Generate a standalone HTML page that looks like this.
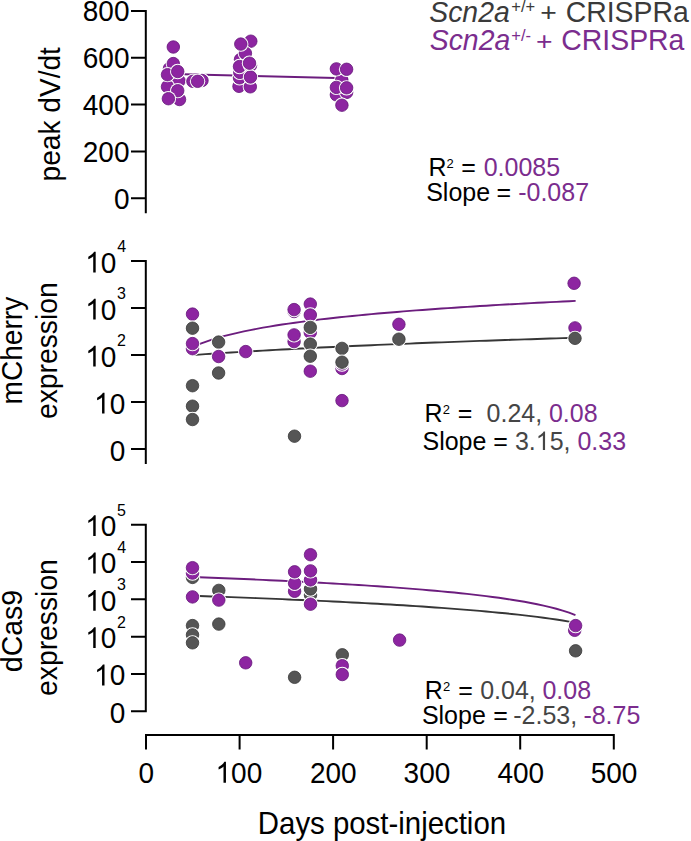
<!DOCTYPE html>
<html><head><meta charset="utf-8"><style>
html,body{margin:0;padding:0;background:#fff;width:691px;height:841px;overflow:hidden;}
svg{display:block;font-family:"Liberation Sans",sans-serif;}
</style></head><body>
<svg width="691" height="841" viewBox="0 0 691 841">
<rect width="691" height="841" fill="#fff"/>
<path d="M145.8,213.3 L145.8,9.9 M131,10.9 L146.8,10.9 M131,57.8 L146.8,57.8 M131,104.6 L146.8,104.6 M131,151.5 L146.8,151.5 M131,198.3 L146.8,198.3" stroke="#000" stroke-width="2" fill="none"/>
<path d="M145.8,463.9 L145.8,260.1 M131,261.1 L146.8,261.1 M131,308.1 L146.8,308.1 M131,355.1 L146.8,355.1 M131,402.1 L146.8,402.1 M131,449.1 L146.8,449.1" stroke="#000" stroke-width="2" fill="none"/>
<path d="M145.8,712.3 L145.8,523.7 M131,524.7 L146.8,524.7 M131,562.0 L146.8,562.0 M131,599.3 L146.8,599.3 M131,636.7 L146.8,636.7 M131,674.0 L146.8,674.0 M131,711.3 L146.8,711.3" stroke="#000" stroke-width="2" fill="none"/>
<path d="M145.0,735.0 L614.8,735.0 M146.0,735.0 L146.0,749.5 M239.6,735.0 L239.6,749.5 M333.1,735.0 L333.1,749.5 M426.7,735.0 L426.7,749.5 M520.2,735.0 L520.2,749.5 M613.8,735.0 L613.8,749.5" stroke="#000" stroke-width="2" fill="none"/>
<text transform="translate(82.78,21.20) scale(1,1.04)" font-size="28" fill="#000">800</text>
<text transform="translate(82.78,68.05) scale(1,1.04)" font-size="28" fill="#000">600</text>
<text transform="translate(82.78,114.90) scale(1,1.04)" font-size="28" fill="#000">400</text>
<text transform="translate(82.78,161.75) scale(1,1.04)" font-size="28" fill="#000">200</text>
<text transform="translate(113.90,208.60) scale(1,1.04)" font-size="28" fill="#000">0</text>
<g transform="translate(85.25,272.50) scale(1,1.04)" fill="#000">
<path transform="translate(0.00,0) scale(0.01367,-0.01367)" d="M763 0L583 0L583 1147Q518 1085 412 1023Q307 961 223 930L223 1104Q374 1175 487 1276Q600 1377 647 1466L763 1466Z"/>
<text x="15.57" y="0" font-size="28">0</text>
</g>
<text transform="translate(117.33,252.20) scale(1,1.04)" font-size="16" fill="#000">4</text>
<g transform="translate(85.25,319.50) scale(1,1.04)" fill="#000">
<path transform="translate(0.00,0) scale(0.01367,-0.01367)" d="M763 0L583 0L583 1147Q518 1085 412 1023Q307 961 223 930L223 1104Q374 1175 487 1276Q600 1377 647 1466L763 1466Z"/>
<text x="15.57" y="0" font-size="28">0</text>
</g>
<text transform="translate(117.08,299.20) scale(1,1.04)" font-size="16" fill="#000">3</text>
<g transform="translate(85.25,366.50) scale(1,1.04)" fill="#000">
<path transform="translate(0.00,0) scale(0.01367,-0.01367)" d="M763 0L583 0L583 1147Q518 1085 412 1023Q307 961 223 930L223 1104Q374 1175 487 1276Q600 1377 647 1466L763 1466Z"/>
<text x="15.57" y="0" font-size="28">0</text>
</g>
<text transform="translate(116.95,346.20) scale(1,1.04)" font-size="16" fill="#000">2</text>
<g transform="translate(94.08,413.50) scale(1,1.04)" fill="#000">
<path transform="translate(0.00,0) scale(0.01367,-0.01367)" d="M763 0L583 0L583 1147Q518 1085 412 1023Q307 961 223 930L223 1104Q374 1175 487 1276Q600 1377 647 1466L763 1466Z"/>
<text x="15.57" y="0" font-size="28">0</text>
</g>
<text transform="translate(109.70,460.50) scale(1,1.04)" font-size="28" fill="#000">0</text>
<g transform="translate(85.25,536.10) scale(1,1.04)" fill="#000">
<path transform="translate(0.00,0) scale(0.01367,-0.01367)" d="M763 0L583 0L583 1147Q518 1085 412 1023Q307 961 223 930L223 1104Q374 1175 487 1276Q600 1377 647 1466L763 1466Z"/>
<text x="15.57" y="0" font-size="28">0</text>
</g>
<text transform="translate(117.08,515.80) scale(1,1.04)" font-size="16" fill="#000">5</text>
<g transform="translate(85.25,573.42) scale(1,1.04)" fill="#000">
<path transform="translate(0.00,0) scale(0.01367,-0.01367)" d="M763 0L583 0L583 1147Q518 1085 412 1023Q307 961 223 930L223 1104Q374 1175 487 1276Q600 1377 647 1466L763 1466Z"/>
<text x="15.57" y="0" font-size="28">0</text>
</g>
<text transform="translate(117.33,553.12) scale(1,1.04)" font-size="16" fill="#000">4</text>
<g transform="translate(85.25,610.74) scale(1,1.04)" fill="#000">
<path transform="translate(0.00,0) scale(0.01367,-0.01367)" d="M763 0L583 0L583 1147Q518 1085 412 1023Q307 961 223 930L223 1104Q374 1175 487 1276Q600 1377 647 1466L763 1466Z"/>
<text x="15.57" y="0" font-size="28">0</text>
</g>
<text transform="translate(117.08,590.44) scale(1,1.04)" font-size="16" fill="#000">3</text>
<g transform="translate(85.25,648.06) scale(1,1.04)" fill="#000">
<path transform="translate(0.00,0) scale(0.01367,-0.01367)" d="M763 0L583 0L583 1147Q518 1085 412 1023Q307 961 223 930L223 1104Q374 1175 487 1276Q600 1377 647 1466L763 1466Z"/>
<text x="15.57" y="0" font-size="28">0</text>
</g>
<text transform="translate(116.95,627.76) scale(1,1.04)" font-size="16" fill="#000">2</text>
<g transform="translate(94.08,685.38) scale(1,1.04)" fill="#000">
<path transform="translate(0.00,0) scale(0.01367,-0.01367)" d="M763 0L583 0L583 1147Q518 1085 412 1023Q307 961 223 930L223 1104Q374 1175 487 1276Q600 1377 647 1466L763 1466Z"/>
<text x="15.57" y="0" font-size="28">0</text>
</g>
<text transform="translate(109.70,722.70) scale(1,1.04)" font-size="28" fill="#000">0</text>
<text transform="translate(138.49,782.70) scale(1,1.04)" font-size="28" fill="#000">0</text>
<g transform="translate(215.52,782.70) scale(1,1.04)" fill="#000">
<path transform="translate(0.00,0) scale(0.01367,-0.01367)" d="M763 0L583 0L583 1147Q518 1085 412 1023Q307 961 223 930L223 1104Q374 1175 487 1276Q600 1377 647 1466L763 1466Z"/>
<text x="15.57" y="0" font-size="28">00</text>
</g>
<text transform="translate(309.92,782.70) scale(1,1.04)" font-size="28" fill="#000">200</text>
<text transform="translate(403.61,782.70) scale(1,1.04)" font-size="28" fill="#000">300</text>
<text transform="translate(497.41,782.70) scale(1,1.04)" font-size="28" fill="#000">400</text>
<text transform="translate(590.72,782.70) scale(1,1.04)" font-size="28" fill="#000">500</text>
<text transform="translate(59.50,181.38) rotate(-90) scale(1,1.04)" font-size="28.1" fill="#000">peak dV/dt</text>
<text transform="translate(21.50,404.48) rotate(-90) scale(1,1.04)" font-size="28.1" fill="#000">mCherry</text>
<text transform="translate(56.70,419.05) rotate(-90) scale(1,1.04)" font-size="28.3" fill="#000">expression</text>
<text transform="translate(21.80,672.15) rotate(-90) scale(1,1.04)" font-size="28.4" fill="#000">dCas9</text>
<text transform="translate(56.70,695.95) rotate(-90) scale(1,1.04)" font-size="28.3" fill="#000">expression</text>
<text transform="translate(257.82,833.6) scale(1,1.06)" font-size="29.4">Days post-injection</text>
<text transform="translate(429.23,21.70) scale(1,1.04)" font-size="28.4" fill="#3a3a3a" font-style="italic">Scn2a</text>
<text transform="translate(511.25,11.80) scale(1,1.04)" font-size="16.5" fill="#3a3a3a">+/+</text>
<text transform="translate(540.33,20.97) scale(1,0.94)" font-size="28.4" fill="#3a3a3a">+</text>
<text transform="translate(565.70,21.70) scale(1,1.04)" font-size="28.4" fill="#3a3a3a">CRISPRa</text>
<text transform="translate(429.73,50.10) scale(1,1.04)" font-size="28.4" fill="#7b2d8e" font-style="italic">Scn2a</text>
<text transform="translate(511.25,40.50) scale(1,1.04)" font-size="16.5" fill="#7b2d8e">+/-</text>
<text transform="translate(535.92,49.77) scale(1,0.94)" font-size="28.4" fill="#7b2d8e">+</text>
<text transform="translate(561.30,50.10) scale(1,1.04)" font-size="28.4" fill="#7b2d8e">CRISPRa</text>
<text transform="translate(428.40,175.60) scale(1,1.04)" font-size="25" fill="#000">R</text>
<text transform="translate(446.57,167.60) scale(1,1.04)" font-size="13" fill="#000">2</text>
<text transform="translate(461.25,175.60) scale(1,1.04)" font-size="25" fill="#000">=</text>
<text transform="translate(483.70,175.60) scale(1,1.04)" font-size="25" fill="#7b2d8e">0.0085</text>
<text transform="translate(426.18,200.80) scale(1,1.04)" font-size="25" fill="#000">Slope</text>
<text transform="translate(496.55,200.80) scale(1,1.04)" font-size="25" fill="#000">=</text>
<text transform="translate(518.17,200.80) scale(1,1.04)" font-size="25" fill="#7b2d8e">-0.087</text>
<text transform="translate(424.60,422.20) scale(1,1.04)" font-size="25" fill="#000">R</text>
<text transform="translate(442.78,414.20) scale(1,1.04)" font-size="13" fill="#000">2</text>
<text transform="translate(457.75,422.20) scale(1,1.04)" font-size="25" fill="#000">=</text>
<text transform="translate(486.60,422.20) scale(1,1.04)" font-size="25" fill="#454545">0.24,</text>
<text transform="translate(548.90,422.20) scale(1,1.04)" font-size="25" fill="#7b2d8e">0.08</text>
<text transform="translate(422.48,450.00) scale(1,1.04)" font-size="25" fill="#000">Slope</text>
<text transform="translate(493.35,450.00) scale(1,1.04)" font-size="25" fill="#000">=</text>
<g transform="translate(514.90,450.00) scale(1,1.04)" fill="#454545">
<text x="0.00" y="0" font-size="25">3.</text>
<path transform="translate(20.85,0) scale(0.01221,-0.01221)" d="M763 0L583 0L583 1147Q518 1085 412 1023Q307 961 223 930L223 1104Q374 1175 487 1276Q600 1377 647 1466L763 1466Z"/>
<text x="34.75" y="0" font-size="25">5,</text>
</g>
<text transform="translate(577.40,450.00) scale(1,1.04)" font-size="25" fill="#7b2d8e">0.33</text>
<text transform="translate(424.80,699.40) scale(1,1.04)" font-size="25" fill="#000">R</text>
<text transform="translate(442.98,691.40) scale(1,1.04)" font-size="13" fill="#000">2</text>
<text transform="translate(458.35,699.40) scale(1,1.04)" font-size="25" fill="#000">=</text>
<text transform="translate(480.20,699.40) scale(1,1.04)" font-size="25" fill="#454545">0.04,</text>
<text transform="translate(542.40,699.40) scale(1,1.04)" font-size="25" fill="#7b2d8e">0.08</text>
<text transform="translate(421.88,724.20) scale(1,1.04)" font-size="25" fill="#000">Slope</text>
<text transform="translate(493.35,724.20) scale(1,1.04)" font-size="25" fill="#000">=</text>
<text transform="translate(513.27,724.20) scale(1,1.04)" font-size="25" fill="#454545">-2.53,</text>
<text transform="translate(583.38,724.20) scale(1,1.04)" font-size="25" fill="#7b2d8e">-8.75</text>
<line x1="173" y1="74.0" x2="346" y2="78.2" stroke="#6c1d7e" stroke-width="1.9"/>
<circle cx="169.5" cy="68.5" r="7.65" fill="#fff"/><circle cx="169.5" cy="68.5" r="6.25" fill="#8d25a1" stroke="#65177a" stroke-width="0.8"/>
<circle cx="173.3" cy="63.6" r="7.65" fill="#fff"/><circle cx="173.3" cy="63.6" r="6.25" fill="#8d25a1" stroke="#65177a" stroke-width="0.8"/>
<circle cx="179.5" cy="99.5" r="7.65" fill="#fff"/><circle cx="179.5" cy="99.5" r="6.25" fill="#8d25a1" stroke="#65177a" stroke-width="0.8"/>
<circle cx="179.0" cy="80.9" r="7.65" fill="#fff"/><circle cx="179.0" cy="80.9" r="6.25" fill="#8d25a1" stroke="#65177a" stroke-width="0.8"/>
<circle cx="167.5" cy="86.7" r="7.65" fill="#fff"/><circle cx="167.5" cy="86.7" r="6.25" fill="#8d25a1" stroke="#65177a" stroke-width="0.8"/>
<circle cx="167.5" cy="74.7" r="7.65" fill="#fff"/><circle cx="167.5" cy="74.7" r="6.25" fill="#8d25a1" stroke="#65177a" stroke-width="0.8"/>
<circle cx="177.7" cy="71.5" r="7.65" fill="#fff"/><circle cx="177.7" cy="71.5" r="6.25" fill="#8d25a1" stroke="#65177a" stroke-width="0.8"/>
<circle cx="177.7" cy="90.7" r="7.65" fill="#fff"/><circle cx="177.7" cy="90.7" r="6.25" fill="#8d25a1" stroke="#65177a" stroke-width="0.8"/>
<circle cx="168.4" cy="98.7" r="7.65" fill="#fff"/><circle cx="168.4" cy="98.7" r="6.25" fill="#8d25a1" stroke="#65177a" stroke-width="0.8"/>
<circle cx="173.3" cy="47.0" r="7.65" fill="#fff"/><circle cx="173.3" cy="47.0" r="6.25" fill="#8d25a1" stroke="#65177a" stroke-width="0.8"/>
<circle cx="192.9" cy="81.3" r="7.65" fill="#fff"/><circle cx="192.9" cy="81.3" r="6.25" fill="#8d25a1" stroke="#65177a" stroke-width="0.8"/>
<circle cx="202.0" cy="80.5" r="7.65" fill="#fff"/><circle cx="202.0" cy="80.5" r="6.25" fill="#8d25a1" stroke="#65177a" stroke-width="0.8"/>
<circle cx="197.6" cy="81.3" r="7.65" fill="#fff"/><circle cx="197.6" cy="81.3" r="6.25" fill="#8d25a1" stroke="#65177a" stroke-width="0.8"/>
<circle cx="240.5" cy="59.5" r="7.65" fill="#fff"/><circle cx="240.5" cy="59.5" r="6.25" fill="#8d25a1" stroke="#65177a" stroke-width="0.8"/>
<circle cx="250.8" cy="41.2" r="7.65" fill="#fff"/><circle cx="250.8" cy="41.2" r="6.25" fill="#8d25a1" stroke="#65177a" stroke-width="0.8"/>
<circle cx="245.4" cy="53.3" r="7.65" fill="#fff"/><circle cx="245.4" cy="53.3" r="6.25" fill="#8d25a1" stroke="#65177a" stroke-width="0.8"/>
<circle cx="240.8" cy="44.1" r="7.65" fill="#fff"/><circle cx="240.8" cy="44.1" r="6.25" fill="#8d25a1" stroke="#65177a" stroke-width="0.8"/>
<circle cx="239.0" cy="86.3" r="7.65" fill="#fff"/><circle cx="239.0" cy="86.3" r="6.25" fill="#8d25a1" stroke="#65177a" stroke-width="0.8"/>
<circle cx="239.5" cy="77.8" r="7.65" fill="#fff"/><circle cx="239.5" cy="77.8" r="6.25" fill="#8d25a1" stroke="#65177a" stroke-width="0.8"/>
<circle cx="239.8" cy="72.4" r="7.65" fill="#fff"/><circle cx="239.8" cy="72.4" r="6.25" fill="#8d25a1" stroke="#65177a" stroke-width="0.8"/>
<circle cx="239.5" cy="66.5" r="7.65" fill="#fff"/><circle cx="239.5" cy="66.5" r="6.25" fill="#8d25a1" stroke="#65177a" stroke-width="0.8"/>
<circle cx="250.5" cy="65.4" r="7.65" fill="#fff"/><circle cx="250.5" cy="65.4" r="6.25" fill="#8d25a1" stroke="#65177a" stroke-width="0.8"/>
<circle cx="250.3" cy="86.8" r="7.65" fill="#fff"/><circle cx="250.3" cy="86.8" r="6.25" fill="#8d25a1" stroke="#65177a" stroke-width="0.8"/>
<circle cx="250.5" cy="77.0" r="7.65" fill="#fff"/><circle cx="250.5" cy="77.0" r="6.25" fill="#8d25a1" stroke="#65177a" stroke-width="0.8"/>
<circle cx="249.5" cy="63.2" r="7.65" fill="#fff"/><circle cx="249.5" cy="63.2" r="6.25" fill="#8d25a1" stroke="#65177a" stroke-width="0.8"/>
<circle cx="341.8" cy="80.0" r="7.65" fill="#fff"/><circle cx="341.8" cy="80.0" r="6.25" fill="#8d25a1" stroke="#65177a" stroke-width="0.8"/>
<circle cx="336.4" cy="94.8" r="7.65" fill="#fff"/><circle cx="336.4" cy="94.8" r="6.25" fill="#8d25a1" stroke="#65177a" stroke-width="0.8"/>
<circle cx="346.6" cy="92.4" r="7.65" fill="#fff"/><circle cx="346.6" cy="92.4" r="6.25" fill="#8d25a1" stroke="#65177a" stroke-width="0.8"/>
<circle cx="336.4" cy="68.9" r="7.65" fill="#fff"/><circle cx="336.4" cy="68.9" r="6.25" fill="#8d25a1" stroke="#65177a" stroke-width="0.8"/>
<circle cx="346.6" cy="69.3" r="7.65" fill="#fff"/><circle cx="346.6" cy="69.3" r="6.25" fill="#8d25a1" stroke="#65177a" stroke-width="0.8"/>
<circle cx="336.4" cy="87.4" r="7.65" fill="#fff"/><circle cx="336.4" cy="87.4" r="6.25" fill="#8d25a1" stroke="#65177a" stroke-width="0.8"/>
<circle cx="346.6" cy="87.8" r="7.65" fill="#fff"/><circle cx="346.6" cy="87.8" r="6.25" fill="#8d25a1" stroke="#65177a" stroke-width="0.8"/>
<circle cx="341.9" cy="105.2" r="7.65" fill="#fff"/><circle cx="341.9" cy="105.2" r="6.25" fill="#8d25a1" stroke="#65177a" stroke-width="0.8"/>
<polyline points="192.78,355.04 199.16,354.59 205.54,354.15 211.91,353.73 218.29,353.31 224.67,352.89 231.05,352.49 237.42,352.10 243.80,351.71 250.18,351.33 256.56,350.95 262.93,350.59 269.31,350.23 275.69,349.87 282.07,349.52 288.45,349.18 294.82,348.85 301.20,348.51 307.58,348.19 313.96,347.87 320.33,347.55 326.71,347.24 333.09,346.93 339.47,346.63 345.84,346.34 352.22,346.04 358.60,345.75 364.98,345.47 371.35,345.19 377.73,344.91 384.11,344.64 390.49,344.37 396.87,344.10 403.24,343.84 409.62,343.58 416.00,343.32 422.38,343.07 428.75,342.82 435.13,342.57 441.51,342.33 447.89,342.09 454.26,341.85 460.64,341.61 467.02,341.38 473.40,341.15 479.78,340.92 486.15,340.70 492.53,340.47 498.91,340.25 505.29,340.03 511.66,339.82 518.04,339.61 524.42,339.39 530.80,339.19 537.17,338.98 543.55,338.77 549.93,338.57 556.31,338.37 562.69,338.17 569.06,337.97 575.44,337.78" fill="none" stroke="#363636" stroke-width="1.9"/>
<polyline points="192.78,346.88 199.16,344.17 205.54,341.78 211.92,339.64 218.30,337.70 224.68,335.94 231.06,334.31 237.45,332.80 243.83,331.40 250.21,330.08 256.59,328.85 262.97,327.69 269.35,326.59 275.73,325.54 282.11,324.55 288.49,323.60 294.87,322.69 301.25,321.83 307.63,321.00 314.02,320.20 320.40,319.43 326.78,318.69 333.16,317.97 339.54,317.28 345.92,316.61 352.30,315.97 358.68,315.34 365.06,314.73 371.44,314.14 377.82,313.57 384.20,313.01 390.58,312.46 396.97,311.93 403.35,311.42 409.73,310.91 416.11,310.42 422.49,309.94 428.87,309.47 435.25,309.02 441.63,308.57 448.01,308.13 454.39,307.70 460.77,307.28 467.15,306.87 473.53,306.46 479.92,306.07 486.30,305.68 492.68,305.30 499.06,304.92 505.44,304.56 511.82,304.20 518.20,303.84 524.58,303.49 530.96,303.15 537.34,302.81 543.72,302.48 550.10,302.15 556.49,301.83 562.87,301.52 569.25,301.21 575.63,300.90" fill="none" stroke="#6c1d7e" stroke-width="1.9"/>
<circle cx="192.5" cy="314.1" r="7.65" fill="#fff"/><circle cx="192.5" cy="314.1" r="6.25" fill="#8d25a1" stroke="#65177a" stroke-width="0.8"/>
<circle cx="192.5" cy="328.2" r="7.65" fill="#fff"/><circle cx="192.5" cy="328.2" r="6.25" fill="#555555" stroke="#383838" stroke-width="0.8"/>
<circle cx="192.5" cy="348.7" r="7.65" fill="#fff"/><circle cx="192.5" cy="348.7" r="6.25" fill="#8d25a1" stroke="#65177a" stroke-width="0.8"/>
<circle cx="192.5" cy="343.6" r="7.65" fill="#fff"/><circle cx="192.5" cy="343.6" r="6.25" fill="#8d25a1" stroke="#65177a" stroke-width="0.8"/>
<circle cx="192.5" cy="385.7" r="7.65" fill="#fff"/><circle cx="192.5" cy="385.7" r="6.25" fill="#555555" stroke="#383838" stroke-width="0.8"/>
<circle cx="192.5" cy="406.2" r="7.65" fill="#fff"/><circle cx="192.5" cy="406.2" r="6.25" fill="#555555" stroke="#383838" stroke-width="0.8"/>
<circle cx="192.5" cy="419.5" r="7.65" fill="#fff"/><circle cx="192.5" cy="419.5" r="6.25" fill="#555555" stroke="#383838" stroke-width="0.8"/>
<circle cx="218.6" cy="342.1" r="7.65" fill="#fff"/><circle cx="218.6" cy="342.1" r="6.25" fill="#555555" stroke="#383838" stroke-width="0.8"/>
<circle cx="218.6" cy="356.5" r="7.65" fill="#fff"/><circle cx="218.6" cy="356.5" r="6.25" fill="#8d25a1" stroke="#65177a" stroke-width="0.8"/>
<circle cx="218.6" cy="373.0" r="7.65" fill="#fff"/><circle cx="218.6" cy="373.0" r="6.25" fill="#555555" stroke="#383838" stroke-width="0.8"/>
<circle cx="245.7" cy="351.6" r="7.65" fill="#fff"/><circle cx="245.7" cy="351.6" r="6.25" fill="#8d25a1" stroke="#65177a" stroke-width="0.8"/>
<circle cx="294.1" cy="311.5" r="7.65" fill="#fff"/><circle cx="294.1" cy="311.5" r="6.25" fill="#8d25a1" stroke="#65177a" stroke-width="0.8"/>
<circle cx="294.1" cy="309.6" r="7.65" fill="#fff"/><circle cx="294.1" cy="309.6" r="6.25" fill="#8d25a1" stroke="#65177a" stroke-width="0.8"/>
<circle cx="294.1" cy="341.6" r="7.65" fill="#fff"/><circle cx="294.1" cy="341.6" r="6.25" fill="#8d25a1" stroke="#65177a" stroke-width="0.8"/>
<circle cx="294.1" cy="334.9" r="7.65" fill="#fff"/><circle cx="294.1" cy="334.9" r="6.25" fill="#8d25a1" stroke="#65177a" stroke-width="0.8"/>
<circle cx="294.5" cy="436.2" r="7.65" fill="#fff"/><circle cx="294.5" cy="436.2" r="6.25" fill="#555555" stroke="#383838" stroke-width="0.8"/>
<circle cx="310.3" cy="304.1" r="7.65" fill="#fff"/><circle cx="310.3" cy="304.1" r="6.25" fill="#8d25a1" stroke="#65177a" stroke-width="0.8"/>
<circle cx="310.3" cy="315.0" r="7.65" fill="#fff"/><circle cx="310.3" cy="315.0" r="6.25" fill="#8d25a1" stroke="#65177a" stroke-width="0.8"/>
<circle cx="310.3" cy="332.4" r="7.65" fill="#fff"/><circle cx="310.3" cy="332.4" r="6.25" fill="#8d25a1" stroke="#65177a" stroke-width="0.8"/>
<circle cx="310.3" cy="327.4" r="7.65" fill="#fff"/><circle cx="310.3" cy="327.4" r="6.25" fill="#555555" stroke="#383838" stroke-width="0.8"/>
<circle cx="310.3" cy="344.1" r="7.65" fill="#fff"/><circle cx="310.3" cy="344.1" r="6.25" fill="#555555" stroke="#383838" stroke-width="0.8"/>
<circle cx="310.3" cy="356.2" r="7.65" fill="#fff"/><circle cx="310.3" cy="356.2" r="6.25" fill="#555555" stroke="#383838" stroke-width="0.8"/>
<circle cx="310.3" cy="371.2" r="7.65" fill="#fff"/><circle cx="310.3" cy="371.2" r="6.25" fill="#8d25a1" stroke="#65177a" stroke-width="0.8"/>
<circle cx="342.0" cy="368.5" r="7.65" fill="#fff"/><circle cx="342.0" cy="368.5" r="6.25" fill="#8d25a1" stroke="#65177a" stroke-width="0.8"/>
<circle cx="342.0" cy="364.0" r="7.65" fill="#fff"/><circle cx="342.0" cy="364.0" r="6.25" fill="#8d25a1" stroke="#65177a" stroke-width="0.8"/>
<circle cx="342.0" cy="348.4" r="7.65" fill="#fff"/><circle cx="342.0" cy="348.4" r="6.25" fill="#555555" stroke="#383838" stroke-width="0.8"/>
<circle cx="342.0" cy="362.2" r="7.65" fill="#fff"/><circle cx="342.0" cy="362.2" r="6.25" fill="#555555" stroke="#383838" stroke-width="0.8"/>
<circle cx="342.0" cy="400.6" r="7.65" fill="#fff"/><circle cx="342.0" cy="400.6" r="6.25" fill="#8d25a1" stroke="#65177a" stroke-width="0.8"/>
<circle cx="398.9" cy="324.3" r="7.65" fill="#fff"/><circle cx="398.9" cy="324.3" r="6.25" fill="#8d25a1" stroke="#65177a" stroke-width="0.8"/>
<circle cx="398.9" cy="339.2" r="7.65" fill="#fff"/><circle cx="398.9" cy="339.2" r="6.25" fill="#555555" stroke="#383838" stroke-width="0.8"/>
<circle cx="574.1" cy="283.3" r="7.65" fill="#fff"/><circle cx="574.1" cy="283.3" r="6.25" fill="#8d25a1" stroke="#65177a" stroke-width="0.8"/>
<circle cx="575.0" cy="327.9" r="7.65" fill="#fff"/><circle cx="575.0" cy="327.9" r="6.25" fill="#8d25a1" stroke="#65177a" stroke-width="0.8"/>
<circle cx="575.0" cy="338.3" r="7.65" fill="#fff"/><circle cx="575.0" cy="338.3" r="6.25" fill="#555555" stroke="#383838" stroke-width="0.8"/>
<polyline points="192.78,595.76 199.16,595.98 205.54,596.21 211.91,596.43 218.29,596.66 224.67,596.90 231.05,597.13 237.42,597.37 243.80,597.61 250.18,597.86 256.56,598.11 262.93,598.37 269.31,598.63 275.69,598.89 282.07,599.16 288.45,599.43 294.82,599.71 301.20,599.99 307.58,600.28 313.96,600.57 320.33,600.86 326.71,601.17 333.09,601.47 339.47,601.79 345.84,602.11 352.22,602.44 358.60,602.77 364.98,603.11 371.35,603.46 377.73,603.82 384.11,604.18 390.49,604.55 396.87,604.93 403.24,605.32 409.62,605.72 416.00,606.13 422.38,606.55 428.75,606.98 435.13,607.43 441.51,607.88 447.89,608.35 454.26,608.83 460.64,609.33 467.02,609.85 473.40,610.38 479.78,610.92 486.15,611.49 492.53,612.08 498.91,612.69 505.29,613.32 511.66,613.98 518.04,614.67 524.42,615.39 530.80,616.14 537.17,616.93 543.55,617.76 549.93,618.63 556.31,619.56 562.69,620.53 569.06,621.58 575.44,622.69" fill="none" stroke="#363636" stroke-width="1.9"/>
<polyline points="192.78,576.95 199.16,577.19 205.54,577.44 211.91,577.70 218.29,577.95 224.67,578.22 231.05,578.48 237.42,578.75 243.80,579.03 250.18,579.31 256.56,579.60 262.93,579.89 269.31,580.18 275.69,580.48 282.07,580.79 288.45,581.10 294.82,581.42 301.20,581.75 307.58,582.08 313.96,582.42 320.33,582.77 326.71,583.12 333.09,583.48 339.47,583.85 345.84,584.23 352.22,584.62 358.60,585.02 364.98,585.42 371.35,585.84 377.73,586.27 384.11,586.71 390.49,587.16 396.87,587.63 403.24,588.11 409.62,588.60 416.00,589.11 422.38,589.64 428.75,590.18 435.13,590.75 441.51,591.33 447.89,591.93 454.26,592.56 460.64,593.22 467.02,593.90 473.40,594.61 479.78,595.35 486.15,596.13 492.53,596.95 498.91,597.81 505.29,598.72 511.66,599.69 518.04,600.71 524.42,601.81 530.80,602.99 537.17,604.25 543.55,605.63 549.93,607.13 556.31,608.78 562.69,610.63 569.06,612.71 575.44,615.10" fill="none" stroke="#6c1d7e" stroke-width="1.9"/>
<circle cx="192.5" cy="577.4" r="7.65" fill="#fff"/><circle cx="192.5" cy="577.4" r="6.25" fill="#555555" stroke="#383838" stroke-width="0.8"/>
<circle cx="192.5" cy="573.1" r="7.65" fill="#fff"/><circle cx="192.5" cy="573.1" r="6.25" fill="#8d25a1" stroke="#65177a" stroke-width="0.8"/>
<circle cx="192.5" cy="567.7" r="7.65" fill="#fff"/><circle cx="192.5" cy="567.7" r="6.25" fill="#8d25a1" stroke="#65177a" stroke-width="0.8"/>
<circle cx="192.5" cy="596.9" r="7.65" fill="#fff"/><circle cx="192.5" cy="596.9" r="6.25" fill="#8d25a1" stroke="#65177a" stroke-width="0.8"/>
<circle cx="192.5" cy="625.6" r="7.65" fill="#fff"/><circle cx="192.5" cy="625.6" r="6.25" fill="#555555" stroke="#383838" stroke-width="0.8"/>
<circle cx="192.5" cy="634.9" r="7.65" fill="#fff"/><circle cx="192.5" cy="634.9" r="6.25" fill="#555555" stroke="#383838" stroke-width="0.8"/>
<circle cx="192.5" cy="642.8" r="7.65" fill="#fff"/><circle cx="192.5" cy="642.8" r="6.25" fill="#555555" stroke="#383838" stroke-width="0.8"/>
<circle cx="218.8" cy="590.4" r="7.65" fill="#fff"/><circle cx="218.8" cy="590.4" r="6.25" fill="#555555" stroke="#383838" stroke-width="0.8"/>
<circle cx="218.8" cy="600.1" r="7.65" fill="#fff"/><circle cx="218.8" cy="600.1" r="6.25" fill="#8d25a1" stroke="#65177a" stroke-width="0.8"/>
<circle cx="218.8" cy="624.1" r="7.65" fill="#fff"/><circle cx="218.8" cy="624.1" r="6.25" fill="#555555" stroke="#383838" stroke-width="0.8"/>
<circle cx="245.7" cy="662.8" r="7.65" fill="#fff"/><circle cx="245.7" cy="662.8" r="6.25" fill="#8d25a1" stroke="#65177a" stroke-width="0.8"/>
<circle cx="294.6" cy="591.3" r="7.65" fill="#fff"/><circle cx="294.6" cy="591.3" r="6.25" fill="#8d25a1" stroke="#65177a" stroke-width="0.8"/>
<circle cx="294.6" cy="583.3" r="7.65" fill="#fff"/><circle cx="294.6" cy="583.3" r="6.25" fill="#8d25a1" stroke="#65177a" stroke-width="0.8"/>
<circle cx="294.6" cy="571.8" r="7.65" fill="#fff"/><circle cx="294.6" cy="571.8" r="6.25" fill="#8d25a1" stroke="#65177a" stroke-width="0.8"/>
<circle cx="294.6" cy="677.3" r="7.65" fill="#fff"/><circle cx="294.6" cy="677.3" r="6.25" fill="#555555" stroke="#383838" stroke-width="0.8"/>
<circle cx="310.5" cy="595.0" r="7.65" fill="#fff"/><circle cx="310.5" cy="595.0" r="6.25" fill="#555555" stroke="#383838" stroke-width="0.8"/>
<circle cx="310.5" cy="589.0" r="7.65" fill="#fff"/><circle cx="310.5" cy="589.0" r="6.25" fill="#555555" stroke="#383838" stroke-width="0.8"/>
<circle cx="310.5" cy="579.9" r="7.65" fill="#fff"/><circle cx="310.5" cy="579.9" r="6.25" fill="#8d25a1" stroke="#65177a" stroke-width="0.8"/>
<circle cx="310.5" cy="570.9" r="7.65" fill="#fff"/><circle cx="310.5" cy="570.9" r="6.25" fill="#8d25a1" stroke="#65177a" stroke-width="0.8"/>
<circle cx="310.5" cy="554.7" r="7.65" fill="#fff"/><circle cx="310.5" cy="554.7" r="6.25" fill="#8d25a1" stroke="#65177a" stroke-width="0.8"/>
<circle cx="310.5" cy="604.2" r="7.65" fill="#fff"/><circle cx="310.5" cy="604.2" r="6.25" fill="#8d25a1" stroke="#65177a" stroke-width="0.8"/>
<circle cx="342.3" cy="654.8" r="7.65" fill="#fff"/><circle cx="342.3" cy="654.8" r="6.25" fill="#555555" stroke="#383838" stroke-width="0.8"/>
<circle cx="342.3" cy="665.7" r="7.65" fill="#fff"/><circle cx="342.3" cy="665.7" r="6.25" fill="#8d25a1" stroke="#65177a" stroke-width="0.8"/>
<circle cx="342.3" cy="674.5" r="7.65" fill="#fff"/><circle cx="342.3" cy="674.5" r="6.25" fill="#8d25a1" stroke="#65177a" stroke-width="0.8"/>
<circle cx="399.6" cy="640.1" r="7.65" fill="#fff"/><circle cx="399.6" cy="640.1" r="6.25" fill="#8d25a1" stroke="#65177a" stroke-width="0.8"/>
<circle cx="574.7" cy="630.3" r="7.65" fill="#fff"/><circle cx="574.7" cy="630.3" r="6.25" fill="#8d25a1" stroke="#65177a" stroke-width="0.8"/>
<circle cx="575.6" cy="625.6" r="7.65" fill="#fff"/><circle cx="575.6" cy="625.6" r="6.25" fill="#8d25a1" stroke="#65177a" stroke-width="0.8"/>
<circle cx="575.6" cy="650.8" r="7.65" fill="#fff"/><circle cx="575.6" cy="650.8" r="6.25" fill="#555555" stroke="#383838" stroke-width="0.8"/>
</svg>
</body></html>
